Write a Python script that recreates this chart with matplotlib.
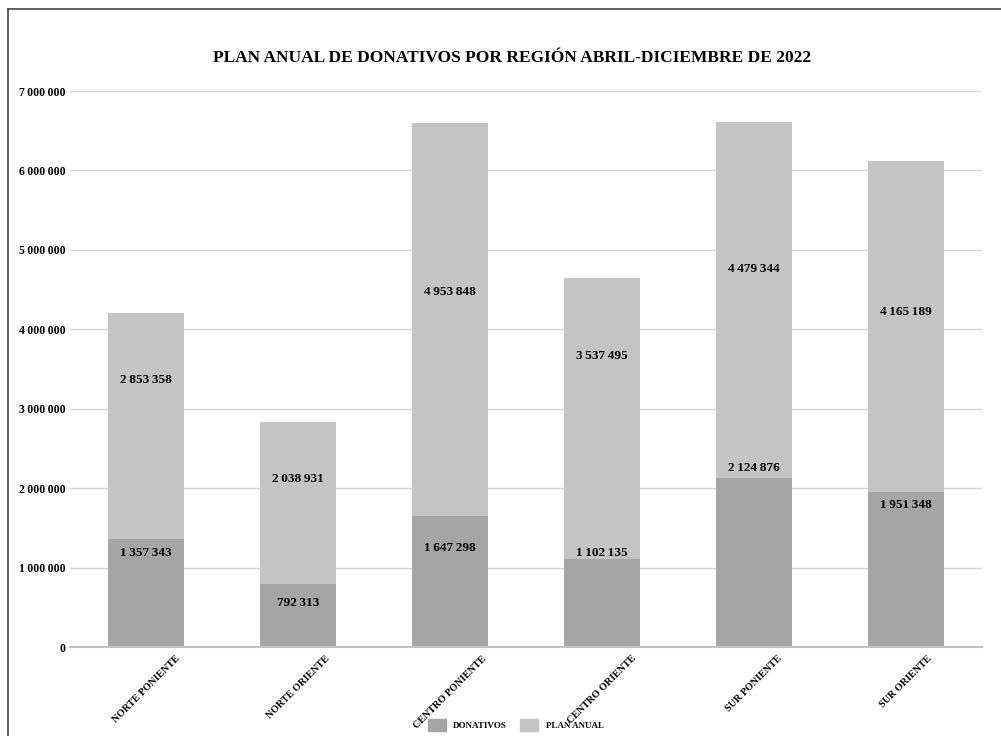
import matplotlib.pyplot as plt
from matplotlib.lines import Line2D
from matplotlib.patches import Patch

regiones = ['NORTE PONIENTE', 'NORTE ORIENTE', 'CENTRO PONIENTE',
            'CENTRO ORIENTE', 'SUR PONIENTE', 'SUR ORIENTE']
donativos = [1357343, 792313, 1647298, 1102135, 2124876, 1951348]
plan_anual = [2853358, 2038931, 4953848, 3537495, 4479344, 4165189]

# label heights (they were placed by hand)
donativos_label_y = [1180000, 550000, 1250000, 1180000, 2250000, 1790000]
plan_label_y = [3360000, 2120000, 4470000, 3660000, 4760000, 4220000]

fuente = ['Liberation Serif', 'DejaVu Serif']
c_don = '#a5a5a5'
c_plan = '#c4c4c4'


def fmt(v):
    return f'{v:,}'.replace(',', '\u2009')


fig = plt.figure(figsize=(10.01, 7.36), dpi=100)
ax = fig.add_axes([70 / 1001, 1 - 647 / 736, 912 / 1001, 556 / 736])

x = range(len(regiones))
ax.bar(x, donativos, width=0.5, color=c_don, zorder=2)
ax.bar(x, plan_anual, width=0.5, bottom=donativos, color=c_plan, zorder=2)

for i in x:
    ax.text(i, donativos_label_y[i], fmt(donativos[i]), ha='center', va='center',
            fontsize=9.5, fontweight='bold', family=fuente, zorder=3)
    ax.text(i, plan_label_y[i], fmt(plan_anual[i]), ha='center', va='center',
            fontsize=9.5, fontweight='bold', family=fuente, zorder=3)

ax.set_xlim(-0.5, 5.5)
ax.set_ylim(0, 7000000)
ax.set_yticks(range(0, 7000001, 1000000))
ax.set_yticklabels([fmt(v) for v in range(0, 7000001, 1000000)],
                   family=fuente, fontweight='bold', fontsize=8.5)
ax.set_xticks(list(x))
ax.set_xticklabels(regiones, rotation=45, ha='center', va='top',
                   family=fuente, fontweight='bold', fontsize=7.3)
ax.tick_params(axis='both', length=0)
ax.tick_params(axis='y', pad=3)
ax.tick_params(axis='x', pad=5)
ax.grid(axis='y', color='#d6d6d6', linewidth=1, zorder=0)
for s in ['top', 'right', 'left']:
    ax.spines[s].set_visible(False)
ax.spines['bottom'].set_color('#c2c2c2')
ax.spines['bottom'].set_linewidth(1.5)

fig.text(0.512, 1 - 58 / 736, 'PLAN ANUAL DE DONATIVOS POR REGIÓN ABRIL-DICIEMBRE DE 2022',
         ha='center', va='center', family=fuente, fontweight='bold', fontsize=12.5)

handles = [Patch(color=c_don, label='DONATIVOS'), Patch(color=c_plan, label='PLAN ANUAL')]
leg = fig.legend(handles=handles, loc='center', bbox_to_anchor=(0.515, 1 - 725 / 736),
                 ncol=2, frameon=False, handlelength=2.0, handleheight=1.6,
                 columnspacing=1.5, prop={'family': fuente, 'weight': 'bold', 'size': 6.5})

# frame of the original image (left and top edges only)
fig.add_artist(Line2D([8 / 1001, 8 / 1001], [0, 1 - 9 / 736], color='#444444', lw=1.2))
fig.add_artist(Line2D([8 / 1001, 1], [1 - 9 / 736, 1 - 9 / 736], color='#444444', lw=1.2))

fig.savefig('out.png', dpi=100)
